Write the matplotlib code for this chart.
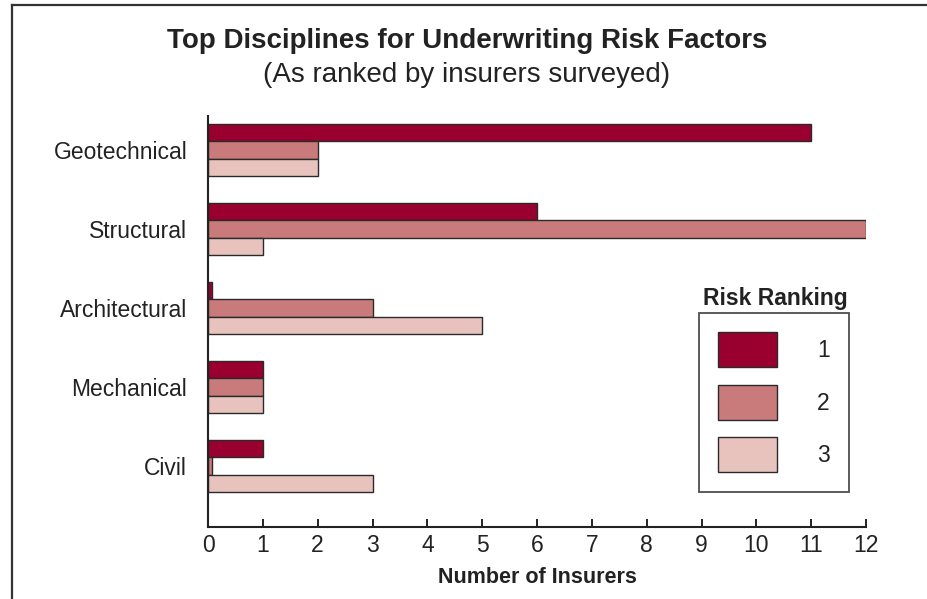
import matplotlib.pyplot as plt
from matplotlib.lines import Line2D
from matplotlib.patches import Patch

plt.rcParams['font.family'] = ['Liberation Sans', 'DejaVu Sans']

# data
disciplines = ['Geotechnical', 'Structural', 'Architectural', 'Mechanical', 'Civil']
rank1 = [11, 6, 0.08, 1, 1]
rank2 = [2, 12, 3, 1, 0.08]
rank3 = [2, 1, 5, 1, 3]
rank_labels = ['1', '2', '3']
colors = ['#990030', '#C87B7A', '#E8C3BD']

fig = plt.figure(figsize=(9.27, 5.99), dpi=100)
ax = fig.add_axes([0.2244, 0.1202, 0.7098, 0.6861])

bar_h = 0.22
ypos = list(range(len(disciplines)))
for k, (vals, c) in enumerate(zip([rank1, rank2, rank3], colors)):
    ax.barh([y + (k - 1) * bar_h for y in ypos], vals, height=bar_h,
            color=c, edgecolor='#2a2a2a', linewidth=1.0)

ax.set_xlim(0, 12)
ax.set_ylim(4.77, -0.43)
ax.set_xticks(range(13))
ax.set_yticks(ypos)
ax.set_yticklabels(disciplines)
ax.tick_params(axis='y', length=0, pad=15, labelsize=16.5, labelcolor='#222222')
ax.tick_params(axis='x', direction='in', length=6, width=1.4, color='#222222',
               pad=5, labelsize=16.5, labelcolor='#222222')
for s in ['top', 'right']:
    ax.spines[s].set_visible(False)
for s in ['left', 'bottom']:
    ax.spines[s].set_linewidth(1.5)
    ax.spines[s].set_color('#222222')
ax.set_xlabel('Number of Insurers', fontsize=15.5, fontweight='bold',
              color='#222222', labelpad=7)

# legend
handles = [Patch(facecolor=c, edgecolor='#2a2a2a', linewidth=1.0) for c in colors]
leg = fig.legend(handles, rank_labels, loc='upper left',
                 bbox_to_anchor=(699 / 927, 1 - 313 / 599), borderaxespad=0,
                 fontsize=16.5, handlelength=2.55, handleheight=1.97,
                 labelspacing=0.76, handletextpad=1.75, borderpad=0.85,
                 fancybox=False, frameon=True)
leg.get_frame().set_edgecolor('#222222')
leg.get_frame().set_linewidth(1.3)
for t in leg.get_texts():
    t.set_color('#222222')
fig.text(775 / 927, 1 - 298 / 599, 'Risk Ranking', ha='center', va='center',
         fontsize=16.5, fontweight='bold', color='#222222')

# titles
fig.text(467 / 927, 1 - 41 / 599, 'Top Disciplines for Underwriting Risk Factors',
         ha='center', va='center', fontsize=20, fontweight='bold', color='#222222')
fig.text(467 / 927, 1 - 75 / 599, '(As ranked by insurers surveyed)',
         ha='center', va='center', fontsize=20, color='#222222')

# frame lines along top and left edge
fig.add_artist(Line2D([12 / 927, 1], [1 - 5 / 599, 1 - 5 / 599],
                      transform=fig.transFigure, color='#333333', linewidth=1.6))
fig.add_artist(Line2D([12 / 927, 12 / 927], [0, 1 - 5 / 599],
                      transform=fig.transFigure, color='#333333', linewidth=1.6))

fig.savefig('out.png', dpi=100)
